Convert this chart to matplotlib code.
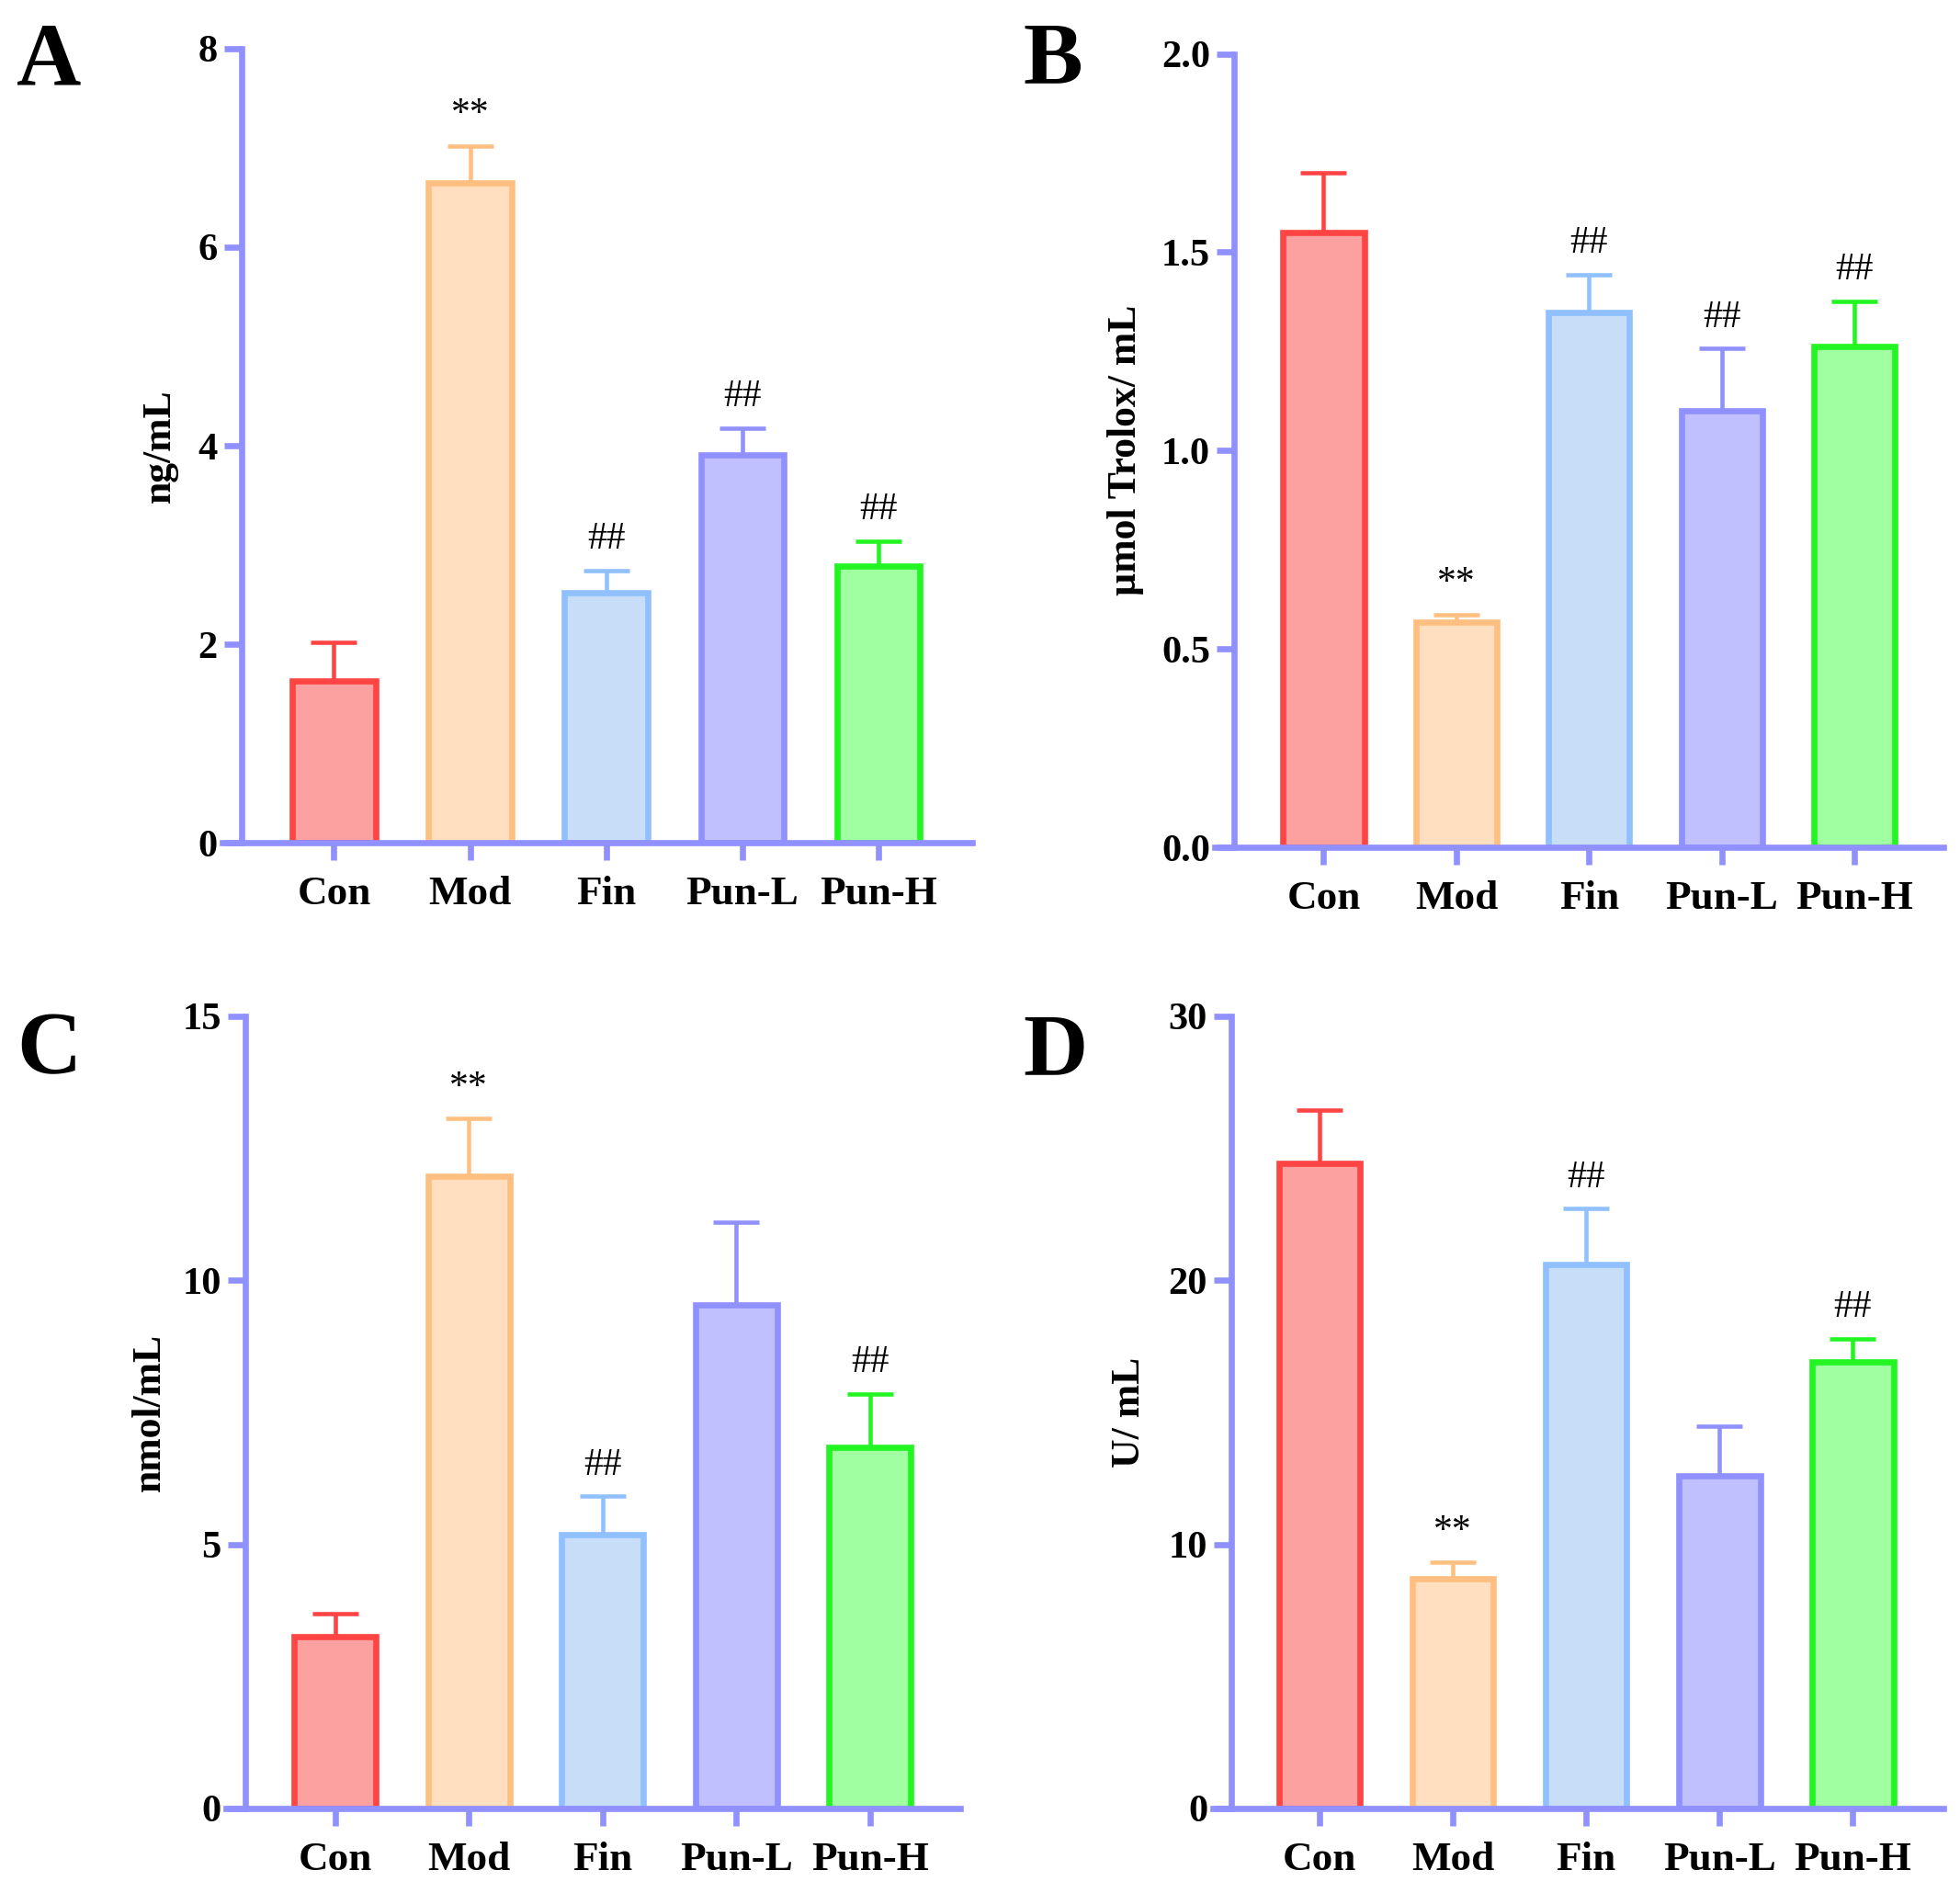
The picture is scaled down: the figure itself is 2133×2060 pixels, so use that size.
import matplotlib
matplotlib.use('Agg')
import matplotlib.pyplot as plt
import numpy as np

plt.rcParams['font.family'] = ['Liberation Serif', 'DejaVu Serif']

# groups shared by all four panels
groups = ['Con', 'Mod', 'Fin', 'Pun-L', 'Pun-H']

# panel A
a_mean = [1.63, 6.65, 2.52, 3.91, 2.79]
a_err = [0.39, 0.37, 0.22, 0.27, 0.25]
a_marks = ['', '**', '##', '##', '##']

# panel B
b_mean = [1.55, 0.567, 1.348, 1.10, 1.263]
b_err = [0.15, 0.019, 0.095, 0.157, 0.113]
b_marks = ['', '**', '##', '##', '##']

# panel C
c_mean = [3.26, 11.97, 5.18, 9.53, 6.84]
c_err = [0.43, 1.09, 0.73, 1.57, 1.01]
c_marks = ['', '**', '##', '', '##']

# panel D
d_mean = [24.42, 8.71, 20.59, 12.59, 16.90]
d_err = [2.03, 0.61, 2.13, 1.89, 0.90]
d_marks = ['', '**', '##', '', '##']

edge_colors = ['#FF4444', '#FFBF80', '#90C0FF', '#9090FF', '#22F522']
fill_colors = ['#FDA0A0', '#FFDFBF', '#C8DDF8', '#C0C0FF', '#A0FFA0']
axis_color = '#9090FF'

W, H = 2133, 2060
fig = plt.figure(figsize=(W / 100, H / 100), dpi=100)


def make_panel(box, xlim, ymax, yticks, ylabel, label_x, fmt, mean, err, marks, letter, letter_xy):
    left, right, bottom, top, spine_off = box
    ax = fig.add_axes([left / W, 1 - bottom / H, (right - left) / W, (bottom - top) / H])
    # move the y axis a little right so the x axis sticks out on the left
    ax.spines['left'].set_position(('axes', spine_off / (right - left)))
    x = np.arange(len(groups))
    # one-sided (upper) error bars, one per group so each gets its own colour
    for xi, m, e, c in zip(x, mean, err, edge_colors):
        ax.errorbar(xi, m, yerr=[[0], [e]], fmt='none', ecolor=c,
                    elinewidth=3.3, capsize=18, capthick=3.3, zorder=1)
    ax.bar(x, mean, width=0.61, color=fill_colors, edgecolor=edge_colors,
           linewidth=4.8, zorder=2)
    for xi, m, e, s in zip(x, mean, err, marks):
        if s:
            ax.annotate(s, (xi, m + e), xytext=(0, 17), textcoords='offset points',
                        ha='center', va='baseline', fontsize=30, color='black')
    ax.set_xlim(*xlim)
    ax.set_ylim(0, ymax)
    ax.set_xticks(x)
    ax.set_xticklabels(groups, fontsize=32.5, fontweight='bold')
    ax.set_yticks(yticks)
    ax.set_yticklabels([fmt.format(t) for t in yticks], fontsize=30.5, fontweight='bold')
    for side in ['top', 'right']:
        ax.spines[side].set_visible(False)
    for side in ['left', 'bottom']:
        ax.spines[side].set_color(axis_color)
        ax.spines[side].set_linewidth(4.8)
        ax.spines[side].set_zorder(3)
    ax.tick_params(axis='both', direction='out', length=13.7, width=4.8,
                   color=axis_color)
    ax.tick_params(axis='x', pad=12)
    ax.tick_params(axis='y', pad=5)
    ax.set_ylabel(ylabel, fontsize=31.5, fontweight='bold')
    ax.yaxis.set_label_coords(label_x, 0.5)
    fig.text(letter_xy[0] / W, 1 - letter_xy[1] / H, letter, fontsize=70,
             fontweight='bold', ha='left', va='baseline')
    return ax


make_panel((242, 1058, 917, 53, 20.5), (-0.82, 4.69), 8, [0, 2, 4, 6, 8], 'ng/mL',
           -0.059, '{:g}', a_mean, a_err, a_marks, 'A', (18, 92))
make_panel((1322, 2115, 922, 58.5, 21), (-0.82, 4.67), 2.0, [0.0, 0.5, 1.0, 1.5, 2.0],
           'µmol Trolox/ mL', -0.097, '{:.1f}', b_mean, b_err, b_marks, 'B', (1113, 91))
make_panel((246, 1045, 1968, 1106, 20.6), (-0.815, 4.675), 15, [0, 5, 10, 15], 'nmol/mL',
           -0.079, '{:g}', c_mean, c_err, c_marks, 'C', (18, 1168))
make_panel((1320, 2115, 1968, 1106, 20), (-0.80, 4.68), 30, [0, 10, 20, 30], 'U/ mL',
           -0.089, '{:g}', d_mean, d_err, d_marks, 'D', (1113, 1170))

fig.savefig('out.png', dpi=100)
